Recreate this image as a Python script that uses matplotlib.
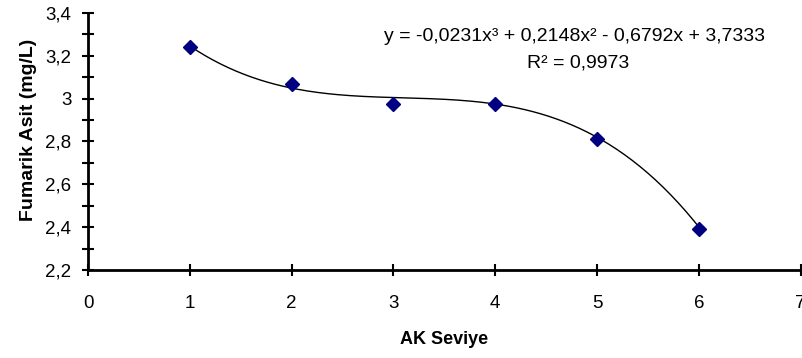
import numpy as np
import matplotlib.pyplot as plt
from matplotlib.ticker import MultipleLocator, FuncFormatter

# === Data ===
ak_seviye = [1, 2, 3, 4, 5, 6]
fumarik_asit = [3.24, 3.07, 2.975, 2.975, 2.81, 2.39]
coef = [-0.0231, 0.2148, -0.6792, 3.7333]  # polynomial trendline (order 3)
equation_text = 'y = -0,0231x³ + 0,2148x² - 0,6792x + 3,7333'
r2_text = 'R² = 0,9973'

plt.rcParams['font.family'] = ['Liberation Sans', 'DejaVu Sans']

fig = plt.figure(figsize=(8.03, 3.58), dpi=100)
ax = fig.add_axes([0.1096, 0.2458, 0.8874, 0.7179])

# trendline
xs = np.linspace(min(ak_seviye), max(ak_seviye), 200)
ax.plot(xs, np.polyval(coef, xs), color='black', linewidth=1.0, zorder=2)

# points
ax.plot(ak_seviye, fumarik_asit, linestyle='none', marker='D', markersize=7,
        color='#000080', markeredgecolor='#000080', zorder=3)

ax.set_xlim(0, 7)
ax.set_ylim(2.2, 3.4)
ax.xaxis.set_major_locator(MultipleLocator(1))
ax.yaxis.set_major_locator(MultipleLocator(0.2))
ax.yaxis.set_minor_locator(MultipleLocator(0.1))
fmt = FuncFormatter(lambda v, p: ('%g' % round(v, 2)).replace('.', ','))
ax.xaxis.set_major_formatter(fmt)
ax.yaxis.set_major_formatter(fmt)

for s in ['top', 'right']:
    ax.spines[s].set_visible(False)
for s in ['left', 'bottom']:
    ax.spines[s].set_linewidth(2)

ax.tick_params(which='both', direction='inout', length=8, width=1.5, labelsize=13.5)
ax.tick_params(axis='y', pad=8)
ax.tick_params(axis='x', pad=14)

ax.set_xlabel('AK Seviye', fontsize=13, fontweight='bold', labelpad=14)
ax.set_ylabel('Fumarik Asit (mg/L)', fontsize=14, fontweight='bold')
ax.yaxis.set_label_coords(-0.0716, 0.545)

ax.text(0.683, 0.907, equation_text, transform=ax.transAxes, ha='center', va='center', fontsize=14)
ax.text(0.688, 0.805, r2_text, transform=ax.transAxes, ha='center', va='center', fontsize=14)

plt.savefig('out.png', dpi=100)
